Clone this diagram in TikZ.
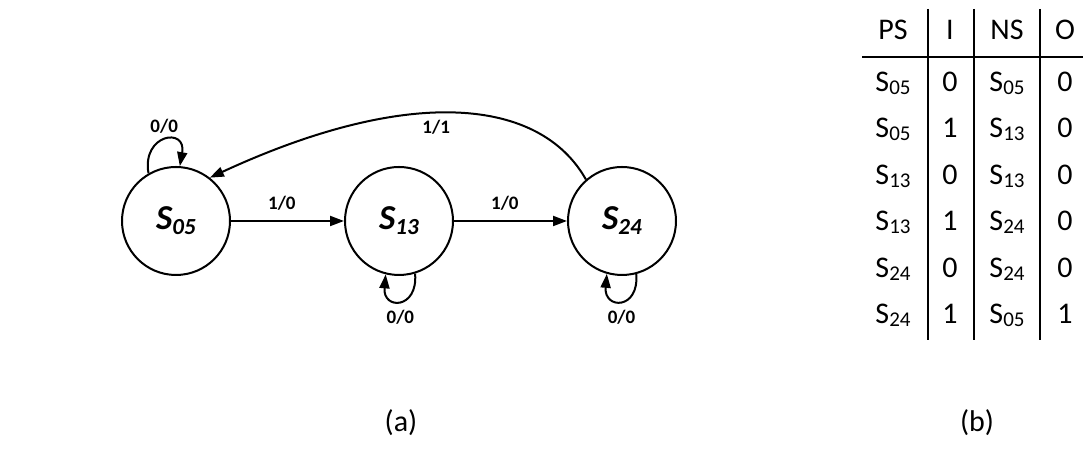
\documentclass[tikz,border=0pt]{standalone}
\usepackage{fontspec}
\setmainfont{Carlito}
\usetikzlibrary{positioning,arrows.meta}
\newcommand{\stsub}[1]{\raisebox{-2.5pt}{\fontsize{11.5}{12}\selectfont #1}}
\newcommand{\tbsub}[1]{\raisebox{-1.5pt}{\fontsize{10.5}{11}\selectfont #1}}

\begin{document}
\begin{tikzpicture}[x=0.5pt,y=0.5pt]

\tikzstyle{circstate}=[circle,draw,line width=1pt,minimum size=54pt,inner sep=0pt,font=\fontsize{17.5}{18}\selectfont\bfseries\itshape]
\tikzstyle{trans}=[line width=1pt,-{Triangle[length=7pt,width=5pt]}]
\tikzstyle{lbl}=[font=\fontsize{9.5}{10}\selectfont\bfseries,inner sep=1pt]
\tikzstyle{cell}=[font=\fontsize{15}{16}\selectfont,inner sep=0pt,anchor=base]
\tikzstyle{rule}=[line width=1.2pt]

\useasboundingbox (0,0) rectangle (1083,453);

% state diagram
\node[circstate] (s05) at (176,232) {S\stsub{05}};
\node[circstate,right=56.5pt of s05] (s13) {S\stsub{13}};
\node[circstate,right=56.5pt of s13] (s24) {S\stsub{24}};

\draw[trans] (s05) -- node[lbl,above=4pt,pos=0.45] {1/0} (s13);
\draw[trans] (s13) -- node[lbl,above=4pt,pos=0.45] {1/0} (s24);
\draw[trans] (s24.131) .. controls (540,355) and (410,368) .. node[lbl,below=2pt,pos=0.55] {1/1} (s05.52);

\draw[trans] (s05.120) to[out=100,in=80,min distance=20pt] node[lbl,above=2pt] {0/0} (s05.86);
\draw[trans] (s13.-73) to[out=-85,in=-95,min distance=18pt] node[lbl,below=3pt] {0/0} (s13.-104);
\draw[trans] (s24.-75) to[out=-85,in=-95,min distance=18pt] node[lbl,below=3pt] {0/0} (s24.-106);

% state table
\foreach \hd/\cx in {PS/893, I/950, NS/1007, O/1065}
    \node[cell] (h\hd) at (\cx,413) {\hd};
\foreach \cur/\inp/\nxt/\outp [count=\rw] in {05/0/05/0, 05/1/13/0, 13/0/13/0, 13/1/24/0, 24/0/24/0, 24/1/05/1}
{
    \node[cell] (ps\rw) at (893,408-46.5*\rw) {S\tbsub{\cur}};
    \node[cell] (i\rw) at (950,408-46.5*\rw) {\inp};
    \node[cell] (ns\rw) at (1007,408-46.5*\rw) {S\tbsub{\nxt}};
    \node[cell] (o\rw) at (1065,408-46.5*\rw) {\outp};
}
\draw[rule] (862,396) -- (1083,396);
\foreach \lx in {928,974,1040}
    \draw[rule] (\lx,444) -- (\lx,113);

% captions
\node[cell,anchor=center] (capa) at (401,30) {(a)};
\node[cell,anchor=center] (capb) at (977,30) {(b)};
\end{tikzpicture}
\end{document}
